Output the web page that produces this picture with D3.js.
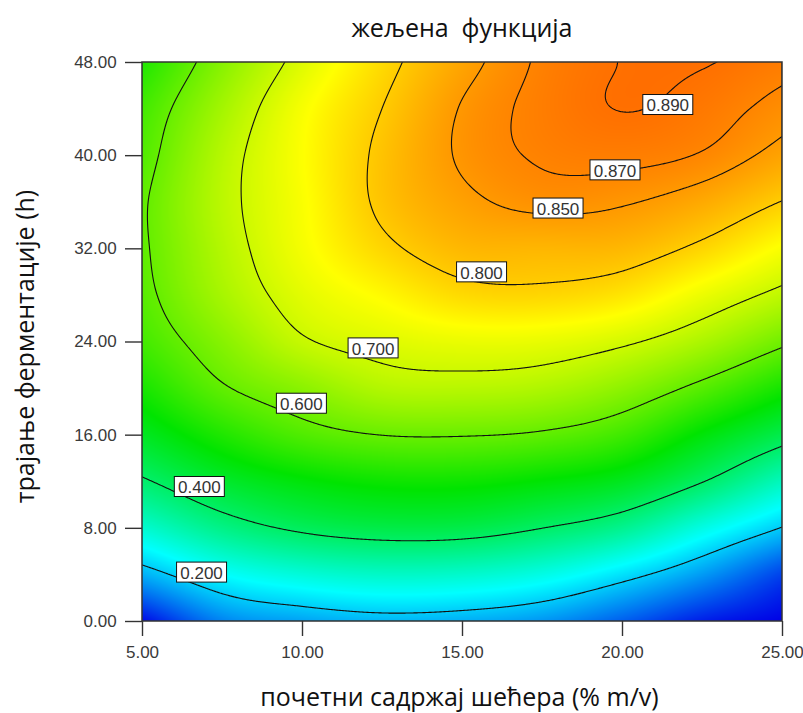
<!DOCTYPE html>
<html>
<head>
<meta charset="utf-8">
<script src="https://cdn.jsdelivr.net/npm/d3@7"></script>
<style>
  body { margin: 0; background: #ffffff; }
  svg { display: block; }
</style>
</head>
<body>
<svg id="chart" width="803" height="713"></svg>
<script>
// Desirability surface sampled on a regular grid:
// columns follow the initial sugar content, rows follow fermentation time.
const sugar = [5, 7.5, 10, 12.5, 15, 17.5, 20, 22.5, 25];
const hours = [0, 4, 8, 12, 16, 20, 24, 28, 32, 36, 40, 44, 48];
const desirability = [
  [0.010, 0.128, 0.160, 0.178, 0.171, 0.147, 0.093, 0.030, 0.000],
  [0.172, 0.250, 0.287, 0.305, 0.300, 0.275, 0.222, 0.152, 0.065],
  [0.295, 0.368, 0.411, 0.430, 0.428, 0.401, 0.360, 0.277, 0.198],
  [0.392, 0.455, 0.492, 0.512, 0.513, 0.497, 0.470, 0.403, 0.315],
  [0.466, 0.530, 0.578, 0.601, 0.603, 0.593, 0.562, 0.493, 0.426],
  [0.522, 0.594, 0.636, 0.675, 0.680, 0.671, 0.639, 0.585, 0.520],
  [0.565, 0.632, 0.694, 0.718, 0.730, 0.728, 0.708, 0.668, 0.611],
  [0.585, 0.663, 0.722, 0.755, 0.786, 0.790, 0.775, 0.732, 0.687],
  [0.592, 0.676, 0.740, 0.790, 0.820, 0.822, 0.820, 0.791, 0.745],
  [0.593, 0.683, 0.745, 0.808, 0.842, 0.858, 0.853, 0.834, 0.799],
  [0.579, 0.678, 0.748, 0.809, 0.854, 0.873, 0.877, 0.868, 0.840],
  [0.564, 0.660, 0.742, 0.800, 0.852, 0.877, 0.8905, 0.882, 0.861],
  [0.530, 0.631, 0.717, 0.785, 0.838, 0.874, 0.8905, 0.8915, 0.879]
];

// Contour levels and the sugar value at which each level's label sits
const levels = [0.200, 0.400, 0.600, 0.700, 0.800, 0.850, 0.870, 0.890];
const labelSugar = [6.08, 6.01, 9.20, 11.44, 14.83, 17.22, 19.00, 20.65];

// Axis ticks and titles
const sugarTicks = [5, 10, 15, 20, 25];
const hourTicks = [0, 8, 16, 24, 32, 40, 48];
const chartTitle = "жељена  функција";
const xTitle = "почетни садржај шећера (% m/v)";
const yTitle = "трајање ферментације (h)";

// Colour ramp of the surface: blue - cyan - green - yellow - red
const rampStops = [0, 0.25, 0.5, 0.75, 1];
const rampColors = ["#0000e6", "#00ffff", "#00e400", "#ffff00", "#ff0000"];

// ---------------------------------------------------------------
const plot = { left: 142, top: 62, width: 640, height: 559 };
const svg = d3.select("#chart");

const x = d3.scaleLinear().domain([sugar[0], sugar[sugar.length - 1]])
  .range([plot.left, plot.left + plot.width]);
const y = d3.scaleLinear().domain([hours[0], hours[hours.length - 1]])
  .range([plot.top + plot.height, plot.top]);
const color = d3.scaleLinear().domain(rampStops).range(rampColors).clamp(true);

// Smooth (Catmull-Rom) evaluation of the gridded surface
const nCols = sugar.length, nRows = hours.length;
const sugarStep = sugar[1] - sugar[0], hourStep = hours[1] - hours[0];
function gridValue(i, j) {
  if (i < 0) return 2 * gridValue(0, j) - gridValue(1, j);
  if (i > nCols - 1) return 2 * gridValue(nCols - 1, j) - gridValue(nCols - 2, j);
  if (j < 0) return 2 * gridValue(i, 0) - gridValue(i, 1);
  if (j > nRows - 1) return 2 * gridValue(i, nRows - 1) - gridValue(i, nRows - 2);
  return desirability[j][i];
}
function catmullRom(p0, p1, p2, p3, t) {
  return p1 + 0.5 * t * (p2 - p0 + t * (2 * p0 - 5 * p1 + 4 * p2 - p3 + t * (3 * (p1 - p2) + p3 - p0)));
}
function surface(s, h) {
  const u = (s - sugar[0]) / sugarStep, v = (h - hours[0]) / hourStep;
  const i = Math.max(0, Math.min(nCols - 2, Math.floor(u)));
  const j = Math.max(0, Math.min(nRows - 2, Math.floor(v)));
  const tu = u - i, tv = v - j;
  const rowVals = [];
  for (let dj = -1; dj <= 2; dj++) {
    rowVals.push(catmullRom(gridValue(i - 1, j + dj), gridValue(i, j + dj),
                            gridValue(i + 1, j + dj), gridValue(i + 2, j + dj), tu));
  }
  const val = catmullRom(rowVals[0], rowVals[1], rowVals[2], rowVals[3], tv);
  return Math.max(0, Math.min(1, val));
}

// Clip region of the plot area
svg.append("defs").append("clipPath").attr("id", "plot-clip")
  .append("rect")
  .attr("x", plot.left).attr("y", plot.top)
  .attr("width", plot.width).attr("height", plot.height);

// Shaded surface, one canvas pixel per screen pixel
const canvas = document.createElement("canvas");
canvas.width = plot.width;
canvas.height = plot.height;
const ctx = canvas.getContext("2d");
const img = ctx.createImageData(plot.width, plot.height);
for (let py = 0; py < plot.height; py++) {
  const h = y.invert(plot.top + py + 0.5);
  for (let px = 0; px < plot.width; px++) {
    const s = x.invert(plot.left + px + 0.5);
    const c = d3.rgb(color(surface(s, h)));
    const k = 4 * (py * plot.width + px);
    img.data[k] = c.r; img.data[k + 1] = c.g; img.data[k + 2] = c.b; img.data[k + 3] = 255;
  }
}
ctx.putImageData(img, 0, 0);
svg.append("image")
  .attr("x", plot.left).attr("y", plot.top)
  .attr("width", plot.width).attr("height", plot.height)
  .attr("preserveAspectRatio", "none")
  .attr("href", canvas.toDataURL());

// Contour lines from a fine sampling of the surface
const nx = 641, ny = 560;
const sx0 = sugar[0], sx1 = sugar[sugar.length - 1];
const hy0 = hours[0], hy1 = hours[hours.length - 1];
const dxs = (sx1 - sx0) / (nx - 1), dyh = (hy1 - hy0) / (ny - 1);
const samples = new Float64Array(nx * ny);
for (let j = 0; j < ny; j++) {
  const h = hy1 - j * dyh;
  for (let i = 0; i < nx; i++) samples[j * nx + i] = surface(sx0 + i * dxs, h);
}
const contourSets = d3.contours().size([nx, ny]).thresholds(levels)(samples);
const toScreen = d3.geoTransform({
  point: function (cx, cy) {
    this.stream.point(x(sx0 + (cx - 0.5) * dxs), y(hy1 - (cy - 0.5) * dyh));
  }
});
const path = d3.geoPath(toScreen);

svg.append("g").attr("clip-path", "url(#plot-clip)")
  .selectAll("path")
  .data(contourSets)
  .join("path")
  .attr("d", path)
  .attr("fill", "none")
  .attr("stroke", "#111")
  .attr("stroke-width", 1.1)
  .attr("stroke-linejoin", "round");

// Plot frame
svg.append("rect")
  .attr("x", plot.left).attr("y", plot.top)
  .attr("width", plot.width).attr("height", plot.height)
  .attr("fill", "none").attr("stroke", "#333").attr("stroke-width", 1.5);

// Contour labels: placed where each line crosses its label's sugar value
const labelData = levels.map((lv, k) => {
  const s = labelSugar[k];
  let h = hy0;
  while (h <= hy1 && surface(s, h) < lv) h += 0.01;
  return { level: lv, px: x(s), py: y(h) };
});
const labels = svg.append("g").selectAll("g").data(labelData).join("g")
  .attr("transform", d => `translate(${d.px},${d.py - 15})`);
labels.append("rect")
  .attr("width", 50).attr("height", 20)
  .attr("fill", "#ffffff").attr("stroke", "#111").attr("stroke-width", 1);
labels.append("text")
  .attr("x", 25).attr("y", 16.8)
  .attr("text-anchor", "middle")
  .attr("font-family", "'Liberation Sans', Arial, sans-serif")
  .attr("font-size", 17)
  .attr("fill", "#333")
  .text(d => d3.format(".3f")(d.level));

// Axes
const fmt = d3.format(".2f");
const xAxis = svg.append("g")
  .attr("transform", `translate(0,${plot.top + plot.height})`)
  .call(d3.axisBottom(x).tickValues(sugarTicks).tickFormat(fmt).tickSize(15).tickPadding(10));
const yAxis = svg.append("g")
  .attr("transform", `translate(${plot.left},0)`)
  .call(d3.axisLeft(y).tickValues(hourTicks).tickFormat(fmt).tickSize(17).tickPadding(8.3));
[xAxis, yAxis].forEach(a => {
  a.select(".domain").remove();
  a.attr("color", "#333");
  a.selectAll("line").attr("stroke-width", 1.4);
  a.selectAll("text")
    .attr("font-family", "'Liberation Sans', Arial, sans-serif")
    .attr("font-size", 17)
    .attr("fill", "#3a3a3a");
});

// Titles
const titleFont = "'Open Sans', 'Noto Sans', sans-serif";
svg.append("text")
  .attr("x", plot.left + plot.width / 2).attr("y", 37.3)
  .attr("text-anchor", "middle")
  .attr("font-family", titleFont).attr("font-size", 25).attr("fill", "#111")
  .attr("xml:space", "preserve").style("white-space", "pre")
  .text(chartTitle);
svg.append("text")
  .attr("x", 459.5).attr("y", 705.5)
  .attr("text-anchor", "middle")
  .attr("font-family", titleFont).attr("font-size", 25).attr("fill", "#111")
  .text(xTitle);
svg.append("text")
  .attr("transform", "translate(33.5,346.5) rotate(-90)")
  .attr("text-anchor", "middle")
  .attr("font-family", titleFont).attr("font-size", 25).attr("fill", "#111")
  .text(yTitle);
</script>
</body>
</html>
